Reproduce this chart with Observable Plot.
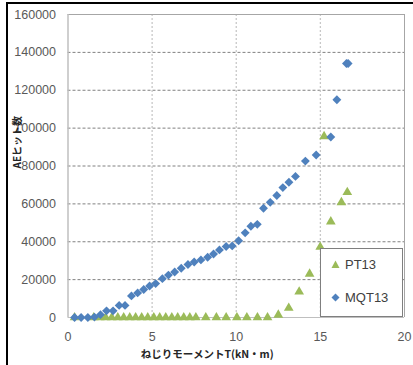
<!DOCTYPE html>
<html><head><meta charset="utf-8">
<script src="https://cdn.jsdelivr.net/npm/d3@7"></script>
<script src="https://cdn.jsdelivr.net/npm/@observablehq/plot@0.6"></script>
<style>
body{margin:0;background:#fff;}
#wrap{position:relative;width:413px;height:365px;overflow:hidden;background:#fff;}
#frame{position:absolute;left:6px;top:2px;width:420px;height:361px;border-left:2px solid #000;border-top:2px solid #000;border-bottom:1px solid #a6a6a6;pointer-events:none;}
#legend{position:absolute;left:320px;top:248px;width:81px;height:67px;background:#fff;border:1.5px solid #7f7f7f;font-family:"Liberation Sans",Arial,sans-serif;font-size:13px;color:#404040;}
.item{position:absolute;left:10px;display:flex;align-items:center;}
.item svg{margin-right:5px;}
</style></head>
<body><div id="wrap"><div id="chart"></div><div id="frame"></div><div id="legend"></div></div>
<script>
const mqtTorque = [0.39,0.78,1.18,1.57,1.93,2.29,2.68,3.04,3.39,3.77,4.14,4.5,4.85,5.21,5.61,5.97,6.34,6.73,7.13,7.5,7.9,8.3,8.65,9.0,9.4,9.76,10.14,10.53,10.87,11.25,11.62,12.02,12.41,12.77,13.13,13.52,14.11,14.75,15.62,15.98,16.55,16.65];
const mqtCount = [0,0,0,200,1500,3500,3500,6400,6400,11400,13000,14800,16600,17900,20500,22400,24000,26000,28000,29300,30400,31800,33500,35700,37500,37800,40500,44700,48200,49200,57700,60800,64400,68600,71400,74500,82600,85800,95300,115000,134100,134100];
const ptTorque = [0.39,1.53,1.89,2.24,2.6,2.96,3.31,3.67,4.02,4.38,4.74,5.1,5.45,5.81,6.17,6.52,6.88,7.24,7.6,8.19,8.82,9.4,10.04,10.63,11.26,11.86,12.5,13.12,13.74,14.36,14.99,15.22,15.62,16.25,16.6];
const ptCount = [0,0,0,0,0,0,0,0,0,0,0,0,0,0,0,0,0,0,0,0,0,0,0,0,0,0,1400,5000,13600,23000,37200,95600,50600,60800,66100];
const xTicks = [0,5,10,15,20];
const yTicks = [0,20000,40000,60000,80000,100000,120000,140000,160000];
const seriesNames = ["PT13","MQT13"];
const seriesColors = ["#9bbb59","#4f81bd"];
const xTitle = "ねじりモーメントT(kN・m)";
const yTitle = "AEヒット数";

const mqt = mqtTorque.map((t,i)=>({t, c: mqtCount[i]}));
const pt = ptTorque.map((t,i)=>({t, c: ptCount[i]}));

const chart = Plot.plot({
  width: 413, height: 365,
  marginLeft: 67.5, marginRight: 9, marginTop: 14, marginBottom: 48,
  style: {fontFamily: '"Liberation Sans", Arial, sans-serif', fontSize: "12.5px", color: "#595959", background: "transparent"},
  x: {domain: [0,20]},
  y: {domain: [0,160000]},
  marks: [
    Plot.gridY(yTicks.slice(1,-1), {stroke: "#808080", strokeOpacity: 1, strokeDasharray: "3,2"}),
    Plot.gridX(xTicks.slice(1,-1), {stroke: "#c8c8c8", strokeOpacity: 1, strokeWidth: 1.3, strokeDasharray: "2,2"}),
    Plot.ruleY([yTicks[yTicks.length-1]], {stroke: "#a6a6a6"}),
    Plot.ruleX([xTicks[xTicks.length-1]], {stroke: "#a6a6a6"}),
    Plot.ruleX([0], {stroke: "#bfbfbf", strokeWidth: 1.5}),
    Plot.ruleY([0], {stroke: "#bfbfbf", strokeWidth: 1}),
    Plot.axisY({ticks: yTicks, tickSize: 0, tickPadding: 12, tickFormat: d => String(d), label: null, fill: "#595959"}),
    Plot.axisX({ticks: xTicks, tickSize: 0, tickPadding: 15, tickFormat: d => String(d), label: null, fill: "#595959"}),
    Plot.dot(pt, {x: "t", y: "c", symbol: "triangle", r: 3.6, fill: seriesColors[0], stroke: "none"}),
    Plot.dot(mqt, {x: "t", y: "c", symbol: "diamond2", r: 4, fill: seriesColors[1], stroke: "none"}),
    Plot.text([xTitle], {frameAnchor: "bottom", dy: 40.5, dx: -29, fontFamily: '"Noto Sans CJK JP", sans-serif', fontWeight: "bold", fontSize: 10.5, fill: "#262626"}),
    Plot.text([yTitle], {frameAnchor: "left", rotate: -90, dx: -50.5, dy: 2.5, fontFamily: '"Noto Sans CJK JP", sans-serif', fontWeight: "bold", fontSize: 10, fill: "#262626"})
  ]
});
document.getElementById("chart").appendChild(chart);

const legend = document.getElementById("legend");
const shapes = [
  '<svg width="9" height="9"><polygon points="4.5,0.5 8.5,8 0.5,8" fill="'+seriesColors[0]+'"/></svg>',
  '<svg width="9" height="9"><polygon points="4.5,0.5 8.5,4.5 4.5,8.5 0.5,4.5" fill="'+seriesColors[1]+'"/></svg>'
];
const tops = [8, 41];
seriesNames.forEach((n,i)=>{
  const d = document.createElement("div");
  d.className = "item";
  d.style.top = tops[i] + "px";
  d.innerHTML = shapes[i] + '<span>' + n + '</span>';
  legend.appendChild(d);
});
</script></body></html>
